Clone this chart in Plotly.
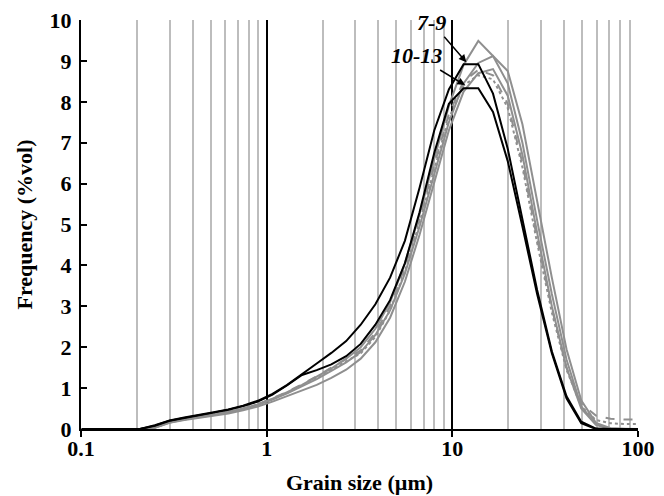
import plotly.graph_objects as go
import math

# Grain size bins (µm)
GRAIN_SIZE = [0.101, 0.121, 0.145, 0.174, 0.208, 0.250, 0.300, 0.360, 0.432, 0.518,
              0.622, 0.746, 0.896, 1.075, 1.29, 1.55, 1.86, 2.23, 2.68, 3.21,
              3.85, 4.62, 5.55, 6.66, 7.99, 9.58, 11.5, 13.8, 16.56, 19.88,
              23.85, 28.62, 34.35, 41.21, 49.45, 59.35, 71.22, 85.46, 102.5]

# Frequency (%vol)
BLACK_7_9 = [0, 0, 0, 0, 0.0, 0.09, 0.21, 0.28, 0.34, 0.41,
             0.48, 0.57, 0.69, 0.86, 1.08, 1.35, 1.60, 1.86, 2.15, 2.55,
             3.05, 3.70, 4.60, 5.90, 7.30, 8.30, 8.92, 8.92, 8.20, 6.85,
             5.15, 3.40, 1.90, 0.80, 0.18, 0.01, 0, 0, 0]
BLACK_10_13 = [0, 0, 0, 0, 0.0, 0.08, 0.20, 0.27, 0.33, 0.40,
               0.47, 0.56, 0.67, 0.84, 1.07, 1.32, 1.44, 1.58, 1.78, 2.08,
               2.55, 3.15, 4.05, 5.30, 6.75, 7.95, 8.33, 8.33, 7.75, 6.55,
               4.95, 3.30, 1.85, 0.75, 0.14, 0.0, 0, 0, 0]
GRAY_1 = [0, 0, 0, 0, 0.0, 0.04, 0.17, 0.24, 0.29, 0.35,
          0.42, 0.50, 0.60, 0.74, 0.90, 1.08, 1.28, 1.48, 1.72, 2.00,
          2.45, 3.10, 4.05, 5.25, 6.60, 7.90, 8.90, 9.49, 9.12, 8.75,
          7.45, 5.60, 3.70, 1.95, 0.70, 0.15, 0.02, 0, 0]
GRAY_2 = [0, 0, 0, 0, 0.0, 0.03, 0.16, 0.23, 0.28, 0.34,
          0.41, 0.49, 0.59, 0.72, 0.87, 1.04, 1.22, 1.42, 1.63, 1.88,
          2.30, 2.90, 3.80, 4.95, 6.25, 7.50, 8.45, 8.95, 9.12, 8.45,
          7.00, 5.10, 3.30, 1.70, 0.55, 0.12, 0.01, 0, 0]
GRAY_3 = [0, 0, 0, 0, 0.0, 0.03, 0.15, 0.22, 0.27, 0.32,
          0.38, 0.46, 0.55, 0.67, 0.80, 0.94, 1.08, 1.25, 1.45, 1.72,
          2.12, 2.72, 3.60, 4.75, 6.05, 7.30, 8.25, 8.70, 8.80, 8.15,
          6.70, 4.80, 3.00, 1.50, 0.50, 0.10, 0.0, 0, 0]
GRAY_DASH = [0, 0, 0, 0, 0.0, 0.04, 0.17, 0.24, 0.29, 0.35,
             0.42, 0.50, 0.61, 0.75, 0.91, 1.09, 1.29, 1.50, 1.70, 1.92,
             2.35, 3.00, 3.95, 5.15, 6.45, 7.70, 8.50, 8.78, 8.65, 7.95,
             6.50, 4.65, 2.95, 1.50, 0.62, 0.33, 0.25, 0.23, 0.23]
GRAY_DOT = [0, 0, 0, 0, 0.0, 0.04, 0.17, 0.24, 0.29, 0.34,
            0.41, 0.49, 0.60, 0.73, 0.89, 1.06, 1.26, 1.46, 1.66, 1.85,
            2.25, 2.90, 3.85, 5.05, 6.35, 7.60, 8.40, 8.65, 8.55, 7.85,
            6.40, 4.55, 2.85, 1.45, 0.55, 0.22, 0.14, 0.12, 0.12]

X_TICKS = [0.1, 1, 10, 100]
X_TICK_LABELS = ["0.1", "1", "10", "100"]
Y_TICKS = [0, 1, 2, 3, 4, 5, 6, 7, 8, 9, 10]

# annotation label positions (grain size, frequency) and arrow targets
LABELS = ["7-9", "10-13"]
LABEL_POS = [(7.77, 9.93), (6.45, 9.12)]
ARROW_TIP = [(11.9, 8.97), (11.7, 8.41)]

GRAY = "#8f8f8f"
FONT = "Liberation Serif"

fig = go.Figure()
series = [
    (GRAY_3, GRAY, "solid"),
    (GRAY_2, GRAY, "solid"),
    (GRAY_1, GRAY, "solid"),
    (GRAY_DASH, GRAY, "dash"),
    (GRAY_DOT, GRAY, "dot"),
    (BLACK_10_13, "black", "solid"),
    (BLACK_7_9, "black", "solid"),
]
for vals, col, dash in series:
    fig.add_trace(go.Scatter(x=GRAIN_SIZE, y=vals, mode="lines",
                             line=dict(color=col, width=2, dash=dash),
                             showlegend=False, hoverinfo="skip"))

fig.update_xaxes(
    type="log", range=[-1, 2], automargin=False,
    tickvals=X_TICKS, ticktext=X_TICK_LABELS,
    showgrid=True, gridcolor="black", gridwidth=1.5,
    minor=dict(showgrid=True, gridcolor="#bdbdbd", gridwidth=1.5, dtick="D1",
               ticks=""),
    showline=True, linecolor="black", linewidth=2,
    ticks="outside", ticklen=6, tickwidth=1.5, tickcolor="black",
    tickfont=dict(family=FONT, size=22, color="black", weight="bold"),
    ticklabelstandoff=-7, ticklabeloverflow="allow",
    title=dict(text="Grain size (µm)", standoff=14,
               font=dict(family=FONT, size=22, color="black", weight="bold")),
    zeroline=False,
)
fig.update_yaxes(
    range=[0, 10], tickvals=Y_TICKS, automargin=False,
    showgrid=False, zeroline=False,
    showline=True, linecolor="black", linewidth=2,
    ticks="inside", ticklen=6, tickwidth=1.5, tickcolor="black",
    tickfont=dict(family=FONT, size=22, color="black", weight="bold"),
    ticklabelstandoff=3, ticklabeloverflow="allow",
    title=dict(text="Frequency (%vol)", standoff=11,
               font=dict(family=FONT, size=22, color="black", weight="bold")),
)

for txt, (lx, ly), (tx, ty) in zip(LABELS, LABEL_POS, ARROW_TIP):
    fig.add_annotation(x=math.log10(tx), y=ty, xref="x", yref="y",
                       ax=math.log10(lx), ay=ly, axref="x", ayref="y",
                       text="<b><i>" + txt + "</i></b>",
                       showarrow=True, arrowhead=2, arrowsize=1,
                       arrowwidth=1.5, arrowcolor="black",
                       font=dict(family=FONT, size=22, color="black"))

# the page adds an 8 px body margin at top/left
fig.update_layout(
    width=656, height=488,
    margin=dict(l=73, r=26, t=12, b=67),
    plot_bgcolor="white", paper_bgcolor="white",
)
fig.write_html("out.html")
